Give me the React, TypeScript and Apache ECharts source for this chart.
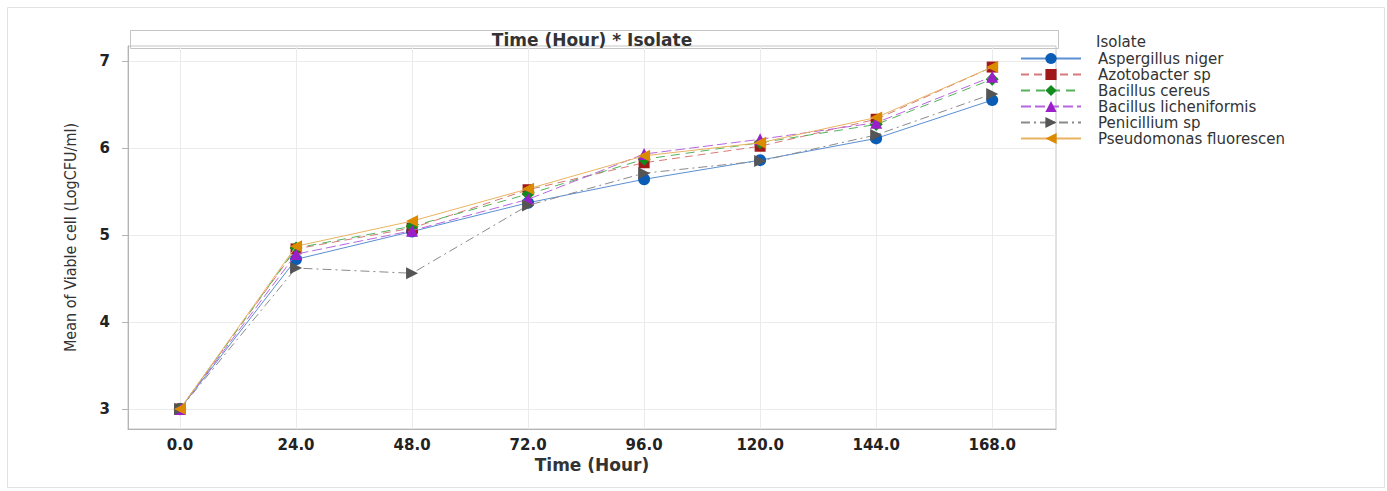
import React, { useEffect, useRef } from "react";
import * as echarts from "echarts";

const hours = [0, 24, 48, 72, 96, 120, 144, 168];
const yTicks = [3, 4, 5, 6, 7];
const seriesNames = [
  "Aspergillus niger",
  "Azotobacter sp",
  "Bacillus cereus",
  "Bacillus licheniformis",
  "Penicillium sp",
  "Pseudomonas fluorescen",
];
const aspergillus = [3.0, 4.72, 5.04, 5.37, 5.64, 5.86, 6.11, 6.55];
const azotobacter = [3.0, 4.84, 5.08, 5.52, 5.83, 6.02, 6.33, 6.93];
const cereus = [3.0, 4.85, 5.1, 5.47, 5.87, 6.06, 6.27, 6.79];
const licheniformis = [3.0, 4.78, 5.05, 5.41, 5.93, 6.1, 6.29, 6.82];
const penicillium = [3.0, 4.62, 4.56, 5.34, 5.71, 5.85, 6.15, 6.62];
const pseudomonas = [3.0, 4.87, 5.16, 5.53, 5.91, 6.06, 6.35, 6.93];

const allValues = [aspergillus, azotobacter, cereus, licheniformis, penicillium, pseudomonas];

const styles = [
  { symbol: "circle", rotate: 0, color: "#0b5cb5", line: "#5a8fd2", type: "solid" as any, size: 12 },
  { symbol: "rect", rotate: 0, color: "#a11818", line: "#d57a7a", type: [8, 5], size: 11 },
  { symbol: "diamond", rotate: 0, color: "#138a1e", line: "#55b25c", type: [9, 6], size: 13 },
  { symbol: "triangle", rotate: 0, color: "#9a1fc9", line: "#b866e0", type: [10, 4], size: 12 },
  { symbol: "triangle", rotate: -90, color: "#555555", line: "#8a8a8a", type: [9, 4, 2, 4], size: 12 },
  { symbol: "triangle", rotate: 90, color: "#dc8a00", line: "#e9b462", type: "solid" as any, size: 12 },
];

export default function App() {
  const ref = useRef<HTMLDivElement>(null);
  useEffect(() => {
    if (!ref.current) return;
    const chart = echarts.init(ref.current, null, { renderer: "svg" });
    const series = seriesNames.map((name, i) => ({
      name,
      type: "line",
      data: hours.map((h, j) => [h, allValues[i][j]]),
      symbol: styles[i].symbol,
      symbolRotate: styles[i].rotate,
      symbolSize: styles[i].size,
      itemStyle: { color: styles[i].color },
      lineStyle: { color: styles[i].line, width: 1, type: styles[i].type },
      z: 2 + i,
    }));
    chart.setOption({
      animation: false,
      backgroundColor: "#ffffff",
      grid: {
        left: 128,
        right: 331,
        top: 46,
        bottom: 62,
        show: true,
        borderColor: "#c4c4c4",
        borderWidth: 1,
      },
      xAxis: {
        type: "value",
        min: -10.76,
        max: 181.2,
        name: "Time (Hour)",
        nameLocation: "middle",
        nameGap: 27,
        nameTextStyle: { fontFamily: "DejaVu Sans", fontSize: 17, fontWeight: "bold", color: "#333" },
        axisLine: { show: true, onZero: false, lineStyle: { color: "#b4b4b4" } },
        axisTick: { show: false, customValues: hours },
        axisLabel: {
          customValues: hours,
          formatter: (v: number) => v.toFixed(1),
          fontFamily: "DejaVu Sans",
          fontSize: 15,
          fontWeight: "bold",
          color: "#222",
          margin: 8,
        },
        splitLine: { show: true, lineStyle: { color: "#ebebeb" } },
      },
      yAxis: {
        type: "value",
        min: 2.77,
        max: 7.172,
        name: "Mean of Viable cell (LogCFU/ml)",
        nameLocation: "middle",
        nameGap: 50,
        nameRotate: 90,
        nameTextStyle: {
          fontFamily: "'Liberation Sans Narrow', 'DejaVu Sans Condensed', sans-serif",
          fontSize: 16,
          color: "#333",
        },
        axisLine: { show: true, onZero: false, lineStyle: { color: "#b4b4b4" } },
        axisTick: { show: true, length: 6, customValues: yTicks, lineStyle: { color: "#b4b4b4" } },
        axisLabel: {
          customValues: yTicks,
          fontFamily: "DejaVu Sans",
          fontSize: 15,
          fontWeight: "bold",
          color: "#222",
          margin: 18,
        },
        splitLine: { show: true, lineStyle: { color: "#ebebeb" } },
      },
      legend: {
        orient: "vertical",
        left: 1020,
        top: 51,
        padding: 0,
        itemWidth: 60,
        itemHeight: 14,
        itemGap: 1,
        textStyle: {
          fontFamily: "DejaVu Sans",
          fontSize: 15,
          lineHeight: 14,
          color: "#333",
          padding: [0, 0, 0, 12],
        },
        data: seriesNames,
      },
      graphic: [
        {
          type: "rect",
          left: 5,
          top: 5,
          shape: { width: 1377, height: 480 },
          style: { fill: "none", stroke: "#e2e2e2", lineWidth: 1 },
          silent: true,
          z: -10,
        },
        {
          type: "rect",
          left: 128,
          top: 28,
          shape: { width: 928, height: 18 },
          style: { fill: "none", stroke: "#c4c4c4", lineWidth: 1 },
          silent: true,
        },
        {
          type: "text",
          x: 592,
          y: 31,
          style: {
            text: "Time (Hour) * Isolate",
            fontFamily: "DejaVu Sans",
            fontSize: 17,
            fontWeight: "bold",
            fill: "#333",
            align: "center",
          },
        },
        {
          type: "text",
          left: 1096,
          top: 34,
          style: { text: "Isolate", fontFamily: "DejaVu Sans", fontSize: 15, fill: "#333" },
        },
      ],
      series,
    });
    return () => chart.dispose();
  }, []);
  return (
    <div
      ref={ref}
      style={{ position: "fixed", left: 0, top: 0, width: 1387, height: 491 }}
    />
  );
}
